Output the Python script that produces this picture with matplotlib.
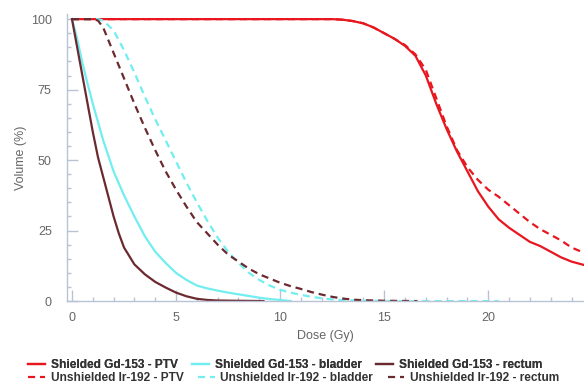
import matplotlib
matplotlib.use("Agg")
import matplotlib.pyplot as plt
import matplotlib.ticker as mticker

# Dose-volume histogram data (Dose in Gy, Volume in %)
ptv_dose = [0, 12.5, 13, 13.5, 14, 14.5, 15, 15.5, 16, 16.5, 17, 17.5, 18, 18.5,
            19, 19.5, 20, 20.5, 21, 21.5, 22, 22.5, 23, 23.5, 24, 24.7]
ptv_gd = [100, 100, 99.8, 99.3, 98.5, 97, 95, 93, 90.5, 87, 80, 70, 61, 53,
          46, 39, 33.5, 29, 26, 23.5, 21, 19.5, 17.5, 15.5, 14, 12.6]
ptv_ir = [100, 100, 99.8, 99.3, 98.5, 97, 95, 93, 90.8, 87.5, 82, 72, 62, 53.5,
          47.5, 43, 39.5, 37, 34, 31, 28, 25.5, 23.5, 21.5, 19, 16.8]

bladder_gd_dose = [0, 0.25, 0.5, 0.75, 1, 1.5, 2, 2.5, 3, 3.5, 4, 4.5, 5, 5.5,
                   6, 6.5, 7, 7.5, 8, 8.5, 9, 9.5, 10, 10.5]
bladder_gd = [100, 93, 84.5, 77, 70, 57, 46, 37.5, 30, 23, 17.5, 13.5, 10, 7.5,
              5.5, 4.5, 3.7, 3, 2.4, 1.8, 1.2, 0.7, 0.4, 0]

bladder_ir_dose = [0, 1.25, 1.5, 2, 2.5, 3, 3.5, 4, 4.5, 5, 5.5, 6, 6.5, 7, 7.5,
                   8, 8.5, 9, 9.5, 10, 10.5, 11, 11.5, 12, 12.5, 13, 14, 15, 16, 20.5]
bladder_ir = [100, 100, 99.5, 96, 89, 81, 72.5, 64.5, 57, 49.5, 42, 35, 28.5, 22.5, 17.5,
              13.5, 10, 7.5, 5.5, 4, 3, 2.2, 1.5, 1, 0.6, 0.35, 0.15, 0.05, 0, 0]

rectum_gd_dose = [0, 0.25, 0.5, 0.75, 1, 1.25, 1.5, 1.75, 2, 2.25, 2.5, 3, 3.5,
                  4, 4.5, 5, 5.5, 6, 6.5, 7, 8, 9.2]
rectum_gd = [100, 90, 80, 70, 60, 51, 44, 37, 30, 24, 19, 13, 9.5,
             6.8, 4.8, 3, 1.7, 0.8, 0.4, 0.2, 0.1, 0]

rectum_ir_dose = [0, 1, 1.25, 1.5, 2, 2.5, 3, 3.5, 4, 4.5, 5, 5.5, 6, 6.5, 7, 7.5,
                  8, 8.5, 9, 9.5, 10, 10.5, 11, 11.5, 12, 12.5, 13, 13.5, 14, 15, 16.6]
rectum_ir = [100, 100, 99.5, 97, 88, 79, 70, 61.5, 53.5, 46, 39.5, 33.5, 28, 24, 20, 16.5,
             14, 11.5, 9.5, 8, 6.5, 5.3, 4.3, 3.2, 2.3, 1.5, 0.9, 0.5, 0.3, 0.1, 0]

RED = "#e8161e"
CYAN = "#72eef0"
BROWN = "#6b2a30"
AXIS = "#b8c3d4"
TXT = "#666666"

plt.rcParams["font.family"] = ["Liberation Sans", "DejaVu Sans"]

fig = plt.figure(figsize=(5.84, 3.85), dpi=100)
ax = fig.add_axes([0.1147, 0.218, 0.8853, 0.7455])

dash = (0, (3.2, 2.2))
lw = 1.6
h1, = ax.plot(ptv_dose, ptv_gd, color=RED, lw=lw, label="Shielded Gd-153 - PTV")
h2, = ax.plot(ptv_dose, ptv_ir, color=RED, lw=lw, ls=dash, label="Unshielded Ir-192 - PTV")
h3, = ax.plot(bladder_gd_dose, bladder_gd, color=CYAN, lw=lw, label="Shielded Gd-153 - bladder")
h4, = ax.plot(bladder_ir_dose, bladder_ir, color=CYAN, lw=lw, ls=dash, label="Unshielded Ir-192 - bladder")
h5, = ax.plot(rectum_gd_dose, rectum_gd, color=BROWN, lw=lw, label="Shielded Gd-153 - rectum")
h6, = ax.plot(rectum_ir_dose, rectum_ir, color=BROWN, lw=lw, ls=dash, label="Unshielded Ir-192 - rectum")

ax.set_xlim(-0.24, 24.6)
ax.set_ylim(0, 101.8)
ax.xaxis.set_major_locator(mticker.MultipleLocator(5))
ax.xaxis.set_minor_locator(mticker.MultipleLocator(1))
ax.yaxis.set_major_locator(mticker.MultipleLocator(25))
ax.yaxis.set_minor_locator(mticker.MultipleLocator(5))

for side in ("top", "right"):
    ax.spines[side].set_visible(False)
for side in ("left", "bottom"):
    ax.spines[side].set_color(AXIS)
    ax.spines[side].set_linewidth(1.0)

ax.tick_params(which="major", direction="in", length=8, width=1, color=AXIS,
               labelcolor=TXT, labelsize=9)
ax.tick_params(which="minor", direction="in", length=3, width=1, color=AXIS)
ax.tick_params(axis="x", which="major", pad=8)
ax.tick_params(axis="y", which="major", pad=11)

ax.set_xlabel("Dose (Gy)", color=TXT, fontsize=9, labelpad=4)
ax.set_ylabel("Volume (%)", color=TXT, fontsize=9, labelpad=3)

# legend: one row per source, each laid out on its own like the original
leg_kw = dict(ncol=3, frameon=False, prop={"weight": "bold", "size": 8.6},
              labelcolor="#333333", handlelength=1.4, handletextpad=0.5,
              columnspacing=1.2, borderaxespad=0, borderpad=0, loc="center left")
leg1 = fig.legend(handles=[h1, h3, h5], bbox_to_anchor=(28 / 584, 1 - 365 / 385), **leg_kw)
fig.add_artist(leg1)
fig.legend(handles=[h2, h4, h6], bbox_to_anchor=(28 / 584, 1 - 378 / 385), **leg_kw)

fig.savefig("out.png", dpi=100)
